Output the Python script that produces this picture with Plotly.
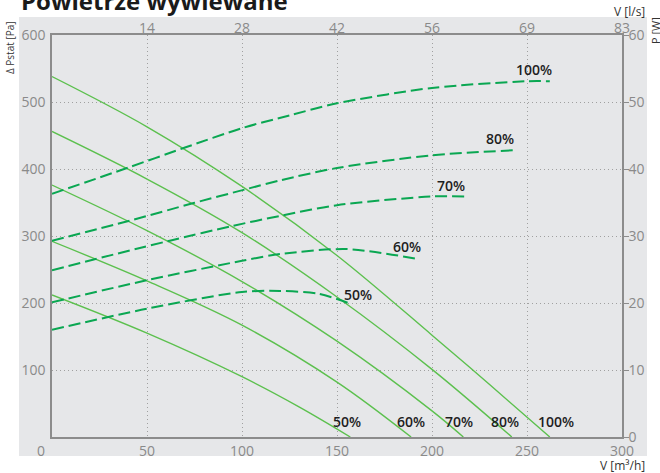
import plotly.graph_objects as go

# ---- axis ticks ----
flow_ticks = [0, 50, 100, 150, 200, 250, 300]
ls_ticks = [50, 100, 150, 200, 250, 300]
ls_labels = ["14", "28", "42", "56", "69", "83"]
pa_ticks = [100, 200, 300, 400, 500, 600]
w_ticks = [0, 10, 20, 30, 40, 50, 60]

speeds = ["100%", "80%", "70%", "60%", "50%"]

# ---- pressure curves: flow [m3/h] -> static pressure [Pa] ----
p100_x = [0, 50, 100, 150, 200, 230, 262]
p100_y = [538, 463, 374, 271, 152, 79, 0]
p80_x = [0, 50, 100, 150, 200, 242]
p80_y = [456, 385, 305, 209, 101, 0]
p70_x = [0, 50, 100, 150, 200, 216.5]
p70_y = [376, 308, 232, 143, 39, 0]
p60_x = [0, 50, 100, 150, 189]
p60_y = [292, 233, 167, 82, 0]
p50_x = [0, 50, 100, 130, 157]
p50_y = [212, 155, 90, 45, 0]

# ---- power curves: flow [m3/h] -> power [W] ----
w100_x = [0, 40, 70, 100, 125, 150, 200, 250, 262]
w100_y = [36.3, 40.2, 43.2, 46.1, 48.0, 49.8, 52.1, 53.1, 53.1]
w80_x = [0, 41, 75, 103, 120, 150, 200, 244]
w80_y = [29.3, 32.3, 34.95, 37.05, 38.3, 40.15, 42.05, 42.8]
w70_x = [0, 44.6, 62, 95, 120, 150, 200, 217]
w70_y = [24.9, 28.1, 29.3, 31.5, 33.0, 34.6, 35.9, 35.9]
w60_x = [0, 50, 100, 120, 155, 193]
w60_y = [20.1, 23.4, 26.3, 27.3, 28.05, 26.55]
w50_x = [0, 50, 100, 120, 140, 156]
w50_y = [16.0, 19.15, 21.65, 21.8, 21.4, 20.0]

pressure = [(p100_x, p100_y), (p80_x, p80_y), (p70_x, p70_y), (p60_x, p60_y), (p50_x, p50_y)]
power = [(w100_x, w100_y), (w80_x, w80_y), (w70_x, w70_y), (w60_x, w60_y), (w50_x, w50_y)]

# label anchor positions
plab_x = [265, 238.5, 214, 189, 155.5]
plab_y = [23, 23, 23, 23, 23]
wlab_x = [253.7, 236, 210, 186.7, 161]
wlab_y = [54.8, 44.55, 37.55, 28.4, 21.3]

SOLID = "#5cc04e"
DASH = "#0aa752"
AXIS = "#8c8c8c"
TICK = "#8a8a8a"
BG = "#e6e7e9"
FONT = "Open Sans"

fig = go.Figure()
for (xs, ys), name in zip(pressure, speeds):
    fig.add_trace(go.Scatter(x=xs, y=ys, mode="lines", name=name,
                             line=dict(color=SOLID, width=1.4, shape="spline", smoothing=1),
                             xaxis="x", yaxis="y", hoverinfo="skip"))
for (xs, ys), name in zip(power, speeds):
    fig.add_trace(go.Scatter(x=xs, y=ys, mode="lines", name=name,
                             line=dict(color=DASH, width=2, dash="12px,5px", shape="spline", smoothing=0.8),
                             xaxis="x2", yaxis="y2", hoverinfo="skip"))

ann = []
for x, y, t in zip(plab_x, plab_y, speeds):
    ann.append(dict(x=x, y=y, xref="x", yref="y", text=t, showarrow=False,
                    xanchor="center", yanchor="middle",
                    font=dict(family=FONT, size=14, color="#1e1e1e", weight=600)))
for x, y, t in zip(wlab_x, wlab_y, speeds):
    ann.append(dict(x=x, y=y, xref="x2", yref="y2", text=t, showarrow=False,
                    xanchor="center", yanchor="middle",
                    font=dict(family=FONT, size=14, color="#1e1e1e", weight=600)))

# zero label of the flow axis (drawn slightly left, as in the reference)
ann.append(dict(x=flow_ticks[0], y=0, xref="x", yref="y", text=str(flow_ticks[0]), showarrow=False,
                xanchor="center", yanchor="middle",
                xshift=-11, yshift=-13, font=dict(family=FONT, size=14, color=TICK)))

# axis titles and heading
ann += [
    dict(x=-0.0737, y=0.97, xref="paper", yref="paper", text="Δ Pstat [Pa]", textangle=-90,
         xanchor="center", yanchor="middle",
         showarrow=False, font=dict(family=FONT, size=10, color="#333333")),
    dict(x=1.0575, y=1.012, xref="paper", yref="paper", text="P [W]", textangle=-90,
         xanchor="center", yanchor="middle",
         showarrow=False, font=dict(family=FONT, size=11, color="#333333")),
    dict(x=1.0430, y=1.0575, xref="paper", yref="paper", text="V [l/s]", xanchor="right",
         yanchor="middle", showarrow=False, font=dict(family=FONT, size=12, color="#333333")),
    dict(x=1.0430, y=-0.0697, xref="paper", yref="paper", text="V [m³/h]", xanchor="right",
         yanchor="middle", showarrow=False, font=dict(family=FONT, size=12, color="#333333")),
    dict(x=-0.058, y=1.087, xref="paper", yref="paper", text="Powietrze wywiewane", xanchor="left",
         yanchor="middle", showarrow=False, font=dict(family=FONT, size=24, color="#1a1a1a", weight=700)),
]

white = dict(type="rect", xref="paper", yref="paper", fillcolor="white", line=dict(width=0), layer="above")
strips = [
    dict(white, x0=-0.3, x1=1.3, y0=1.0448, y1=1.3),
    dict(white, x0=-0.3, x1=1.3, y0=-0.3, y1=-0.0473),
    dict(white, x0=-0.3, x1=-0.0579, y0=-0.3, y1=1.3),
    dict(white, x0=1.0439, x1=1.3, y0=-0.3, y1=1.3),
]

fig.update_layout(
    width=660, height=473, autosize=False,
    margin=dict(l=52, r=38, t=35, b=36),
    paper_bgcolor=BG, plot_bgcolor=BG,
    showlegend=False,
    font=dict(family=FONT, size=14, color=TICK),
    shapes=strips,
    annotations=ann,
    xaxis=dict(range=[0, 300], tickvals=flow_ticks[1:], showline=True, linecolor=AXIS, linewidth=1.5,
               showgrid=True, gridcolor="#a0a0a0", griddash="1px,3px", gridwidth=1, zeroline=False,
               ticks="", tickfont=dict(family=FONT, size=14, color=TICK), ticklabelstandoff=0,
               automargin=False),
    xaxis2=dict(range=[0, 300], overlaying="x", side="top", tickvals=ls_ticks, ticktext=ls_labels,
                showline=True, linecolor=AXIS, linewidth=1.5, showgrid=False, zeroline=False, ticks="",
                tickfont=dict(family=FONT, size=14, color=TICK), ticklabelstandoff=-5, automargin=False),
    yaxis=dict(range=[0, 600], tickvals=pa_ticks, showline=True, linecolor=AXIS, linewidth=1.5,
               showgrid=True, gridcolor="#a0a0a0", griddash="1px,3px", gridwidth=1, zeroline=False,
               ticks="", tickfont=dict(family=FONT, size=14, color=TICK), ticklabelstandoff=2,
               automargin=False),
    yaxis2=dict(range=[0, 60], overlaying="y", side="right", tickvals=w_ticks, showline=True,
                linecolor=AXIS, linewidth=1.5, showgrid=False, zeroline=False, ticks="outside",
                ticklen=5, tickcolor=AXIS, tickfont=dict(family=FONT, size=14, color=TICK),
                ticklabelstandoff=-3, automargin=False),
)

fig.write_html("out.html", config={"displayModeBar": False},
               post_script="document.body.style.margin='0';document.body.style.padding='0';")
